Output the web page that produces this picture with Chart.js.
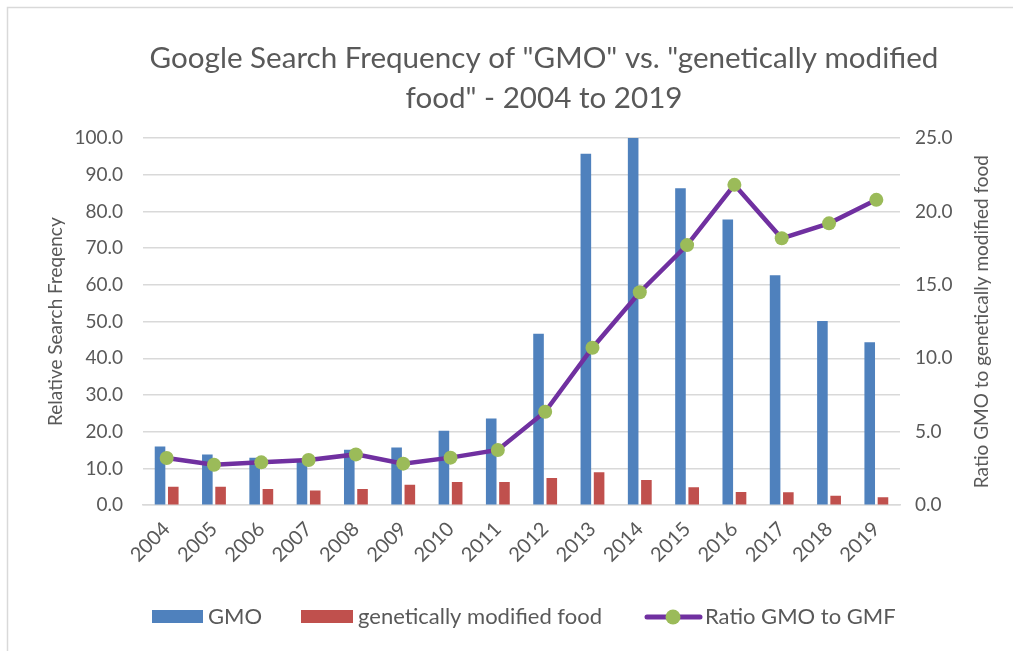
<!DOCTYPE html>
<html>
<head>
<meta charset="utf-8">
<script src="https://cdn.jsdelivr.net/npm/chart.js@4.4.1/dist/chart.umd.min.js"></script>
<style>
html,body{margin:0;padding:0;background:#fff;}
#wrap{width:1013px;height:651px;position:relative;}
</style>
</head>
<body>
<div id="wrap"><canvas id="c" width="1013" height="651"></canvas></div>
<script>
const years = ['2004','2005','2006','2007','2008','2009','2010','2011','2012','2013','2014','2015','2016','2017','2018','2019'];
const gmo = [16.0,13.8,12.9,12.2,15.1,15.7,20.3,23.6,46.7,95.7,100.0,86.3,77.8,62.6,50.2,44.4];
const gmf = [5.0,5.0,4.4,4.0,4.4,5.6,6.3,6.3,7.4,9.0,6.9,4.9,3.6,3.5,2.6,2.2];
const ratio = [3.21,2.76,2.92,3.08,3.46,2.83,3.24,3.76,6.36,10.72,14.50,17.71,21.81,18.17,19.19,20.79];
const titleLines = ['Google Search Frequency of "GMO" vs. "genetically modified', 'food" - 2004 to 2019'];
const seriesNames = ['GMO','genetically modified food','Ratio GMO to GMF'];
const leftTitle = 'Relative Search Freqency';
const rightTitle = 'Ratio GMO to genetically modified food';

const FONT = 'Lato, "Open Sans", sans-serif';
const TXT = '#595959';
const BLUE = '#4F81BD', RED = '#C0504D', PURPLE = '#7030A0', GREEN = '#9BBB59';

const frame = {
  id: 'frame',
  beforeDraw(chart) {
    const ctx = chart.ctx;
    ctx.save();
    ctx.fillStyle = '#fff';
    ctx.fillRect(0,0,chart.width,chart.height);
    ctx.strokeStyle = '#D9D9D9';
    ctx.lineWidth = 1.5;
    ctx.beginPath();
    ctx.moveTo(7.5, chart.height);
    ctx.lineTo(7.5, 7.5);
    ctx.lineTo(chart.width, 7.5);
    ctx.stroke();
    ctx.font = '29.6px ' + FONT;
    ctx.fillStyle = TXT;
    ctx.textAlign = 'center';
    ctx.textBaseline = 'middle';
    ctx.fillText(titleLines[0], 544, 58);
    ctx.fillText(titleLines[1], 544, 98);
    ctx.restore();
  }
};

const extras = {
  id: 'extras',
  afterDraw(chart) {
    const ctx = chart.ctx;
    const area = chart.chartArea;
    ctx.save();
    ctx.font = '19px ' + FONT;
    ctx.fillStyle = TXT;
    ctx.textAlign = 'center';
    ctx.textBaseline = 'middle';
    ctx.translate(982, (area.top + area.bottom) / 2);
    ctx.rotate(-Math.PI / 2);
    ctx.fillText(rightTitle, 0, 0);
    ctx.restore();

    ctx.save();
    ctx.font = '22px ' + FONT;
    ctx.textBaseline = 'middle';
    ctx.textAlign = 'left';
    const y = 617;
    ctx.fillStyle = BLUE;
    ctx.fillRect(152, y-7, 51, 13);
    ctx.fillStyle = TXT;
    ctx.fillText(seriesNames[0], 208, y);
    ctx.fillStyle = RED;
    ctx.fillRect(301, y-7, 52, 13);
    ctx.fillStyle = TXT;
    ctx.fillText(seriesNames[1], 358, y);
    ctx.strokeStyle = PURPLE;
    ctx.lineWidth = 5;
    ctx.lineCap = 'round';
    ctx.beginPath();
    ctx.moveTo(647, y); ctx.lineTo(700, y); ctx.stroke();
    ctx.fillStyle = GREEN;
    ctx.beginPath(); ctx.arc(673, y, 7.5, 0, Math.PI*2); ctx.fill();
    ctx.fillStyle = TXT;
    ctx.fillText(seriesNames[2], 705, y);
    ctx.restore();
  }
};

function build() {
  new Chart(document.getElementById('c'), {
    data: {
      labels: years,
      datasets: [
        {
          type: 'line', label: seriesNames[2], data: ratio, yAxisID: 'y1',
          borderColor: PURPLE, borderWidth: 4.5, backgroundColor: GREEN,
          pointBackgroundColor: GREEN, pointBorderColor: GREEN, pointRadius: 7, pointBorderWidth: 0,
          tension: 0, order: 0
        },
        {
          type: 'bar', label: seriesNames[0], data: gmo, yAxisID: 'y',
          backgroundColor: BLUE, categoryPercentage: 0.56, barPercentage: 0.8, order: 1
        },
        {
          type: 'bar', label: seriesNames[1], data: gmf, yAxisID: 'y',
          backgroundColor: RED, categoryPercentage: 0.56, barPercentage: 0.8, order: 1
        }
      ]
    },
    options: {
      responsive: false,
      animation: false,
      devicePixelRatio: 1,
      layout: { padding: { left: 40, right: 55, top: 138, bottom: 80 } },
      plugins: {
        legend: { display: false },
        tooltip: { enabled: false },
        title: { display: false }
      },
      scales: {
        x: {
          grid: { display: false },
          border: { display: true, color: '#D9D9D9', width: 1.5 },
          ticks: { color: TXT, font: { family: FONT, size: 20 }, minRotation: 45, maxRotation: 45, padding: 4 },
          afterFit(scale) { scale.paddingLeft = 0; scale.paddingRight = 0; }
        },
        y: {
          position: 'left', min: 0, max: 100,
          grid: { color: '#D9D9D9', lineWidth: 1.5, drawTicks: false },
          border: { display: false },
          ticks: { stepSize: 10, color: TXT, padding: 20, font: { family: FONT, size: 19 }, callback: v => v.toFixed(1) },
          title: { display: true, text: leftTitle, color: TXT, font: { family: FONT, size: 19 }, padding: { top: 4, bottom: 4 } },
          afterFit(scale) { scale.width = 103; }
        },
        y1: {
          position: 'right', min: 0, max: 25,
          grid: { display: false, drawTicks: false },
          border: { display: false },
          ticks: { stepSize: 5, color: TXT, padding: 15, font: { family: FONT, size: 19 }, callback: v => v.toFixed(1) },
          afterFit(scale) { scale.width = 58; }
        }
      }
    },
    plugins: [frame, extras]
  });
}

Promise.all([
  document.fonts.load('19px Lato'),
  document.fonts.load('30px Lato')
]).then(build, build);
</script>
</body>
</html>
